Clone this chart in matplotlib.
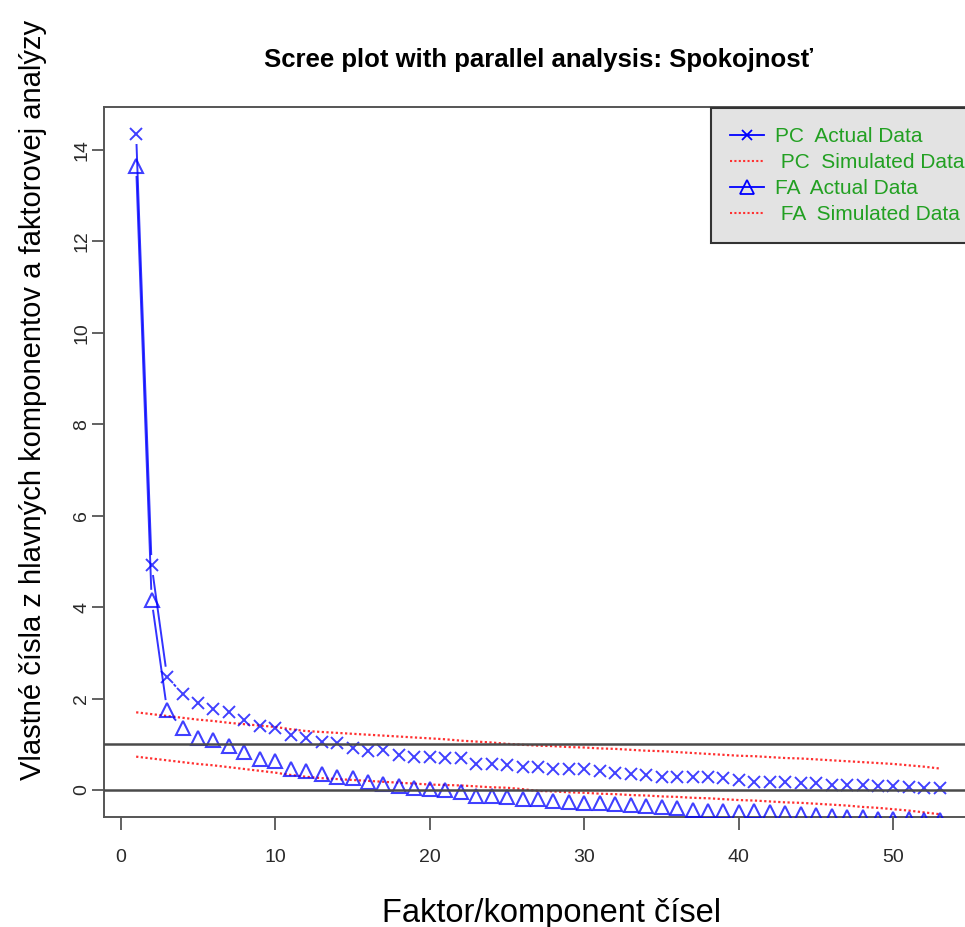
import matplotlib
matplotlib.use("Agg")
import matplotlib.pyplot as plt
from matplotlib.lines import Line2D
import numpy as np

plt.rcParams['font.family'] = ['Liberation Sans', 'DejaVu Sans']

factors = list(range(1, 54))
pc_actual = [14.35, 4.92, 2.48, 2.10, 1.90, 1.77, 1.70, 1.53, 1.41, 1.36,
             1.20, 1.13, 1.06, 1.02, 0.93, 0.86, 0.87, 0.77, 0.73, 0.73,
             0.69, 0.69, 0.58, 0.57, 0.55, 0.51, 0.51, 0.47, 0.45, 0.45,
             0.42, 0.38, 0.36, 0.33, 0.29, 0.29, 0.28, 0.28, 0.26, 0.23,
             0.18, 0.18, 0.18, 0.16, 0.15, 0.12, 0.12, 0.11, 0.09, 0.09,
             0.07, 0.05, 0.05]
fa_actual = [13.65, 4.16, 1.75, 1.35, 1.13, 1.09, 0.97, 0.84, 0.68, 0.64,
             0.47, 0.42, 0.35, 0.29, 0.26, 0.17, 0.13, 0.09, 0.05, 0.015,
             0.00, -0.04, -0.13, -0.13, -0.16, -0.20, -0.20, -0.23, -0.26, -0.28,
             -0.29, -0.31, -0.33, -0.35, -0.38, -0.40, -0.44, -0.45, -0.46, -0.47,
             -0.46, -0.48, -0.50, -0.52, -0.55, -0.56, -0.58, -0.60, -0.63, -0.63,
             -0.64, -0.65, -0.66]
pc_sim = [1.70, 1.66, 1.62, 1.58, 1.54, 1.51, 1.47, 1.44, 1.41, 1.38,
          1.33, 1.29, 1.27, 1.25, 1.23, 1.21, 1.19, 1.17, 1.15, 1.13,
          1.11, 1.08, 1.06, 1.04, 1.01, 0.99, 0.97, 0.96, 0.94, 0.93,
          0.91, 0.90, 0.88, 0.86, 0.85, 0.83, 0.81, 0.79, 0.77, 0.75,
          0.74, 0.72, 0.70, 0.69, 0.67, 0.65, 0.63, 0.61, 0.59, 0.57,
          0.54, 0.51, 0.47]
fa_sim = [0.73, 0.69, 0.65, 0.61, 0.57, 0.54, 0.50, 0.46, 0.42, 0.38,
          0.33, 0.29, 0.26, 0.24, 0.22, 0.20, 0.18, 0.16, 0.14, 0.12,
          0.11, 0.10, 0.08, 0.06, 0.05, 0.02, -0.02, -0.03, -0.05, -0.06,
          -0.08, -0.09, -0.11, -0.12, -0.14, -0.15, -0.17, -0.18, -0.20, -0.22,
          -0.23, -0.25, -0.27, -0.28, -0.30, -0.32, -0.34, -0.37, -0.39, -0.42,
          -0.45, -0.49, -0.53]
ref_lines = [0, 1]
x_ticks = [0, 10, 20, 30, 40, 50]
y_ticks = [0, 2, 4, 6, 8, 10, 12, 14]
legend_labels = ["PC  Actual Data", " PC  Simulated Data", "FA  Actual Data", " FA  Simulated Data"]

title = "Scree plot with parallel analysis: Spokojnosť"
xlabel = "Faktor/komponent čísel"
ylabel = "Vlastné čísla z hlavných komponentov a faktorovej analýzy"

W, H = 965, 927
fig = plt.figure(figsize=(W / 100, H / 100), dpi=100)
ax = fig.add_axes([104 / W, 1 - 817 / H, (972 - 104) / W, (817 - 107) / H])
ax.set_xlim(-1.08, 55.08)
ax.set_ylim(-0.59, 14.94)

blue = '#0000ff'
red = '#ff3030'
dots = (0, (1, 1.1))
ax.plot(factors, pc_sim, linestyle=dots, color=red, lw=1.6, zorder=2)
ax.plot(factors, fa_sim, linestyle=dots, color=red, lw=1.6, zorder=2)

ax.plot(factors, pc_actual, linestyle='none', marker='x', ms=8, mew=1.4,
        color=blue, alpha=0.75, zorder=3)
ax.plot(factors, fa_actual, linestyle='none', marker='^', ms=10, mew=1.5,
        mfc='none', mec=blue, alpha=0.75, zorder=3)

# type="b" line segments with gaps around points
fig.canvas.draw()
T = ax.transData
Ti = T.inverted()
gap = 11.0
for ys in (pc_actual, fa_actual):
    pts = T.transform(np.column_stack([factors, ys]))
    for i in range(len(pts) - 1):
        p0, p1 = pts[i], pts[i + 1]
        d = p1 - p0
        L = np.hypot(*d)
        if L > 2 * gap + 1:
            u = d / L
            a = Ti.transform(p0 + u * gap)
            b = Ti.transform(p1 - u * gap)
            ax.plot([a[0], b[0]], [a[1], b[1]], color=blue, lw=1.4, alpha=0.8, zorder=3)

for yv in ref_lines:
    ax.axhline(yv, color='#4a4a4a', lw=1.8, zorder=4)

ax.set_xticks(x_ticks)
ax.set_yticks(y_ticks)
ax.set_xticklabels([str(v) for v in x_ticks])
ax.set_yticklabels([str(v) for v in y_ticks], rotation=90, va='center')
ax.tick_params(axis='both', direction='out', length=9, width=1.3, color='#555555',
               labelsize=14, labelcolor='#2a2a2a')
ax.tick_params(axis='x', pad=14)
ax.tick_params(axis='y', pad=1)
for s in ax.spines.values():
    s.set_color('#555555')
    s.set_linewidth(1.4)

ax.set_title(title, fontsize=18.5, fontweight='bold', pad=29)
ax.set_xlabel(xlabel, fontsize=23.5)
ax.xaxis.set_label_coords(0.516, -0.114)
ax.set_ylabel(ylabel, fontsize=21)
ax.yaxis.set_label_coords(-0.066, 0.587)

handles = [
    Line2D([], [], color=blue, lw=1.3, marker='x', ms=7.5, mew=1.3),
    Line2D([], [], color=red, lw=1.5, linestyle=dots),
    Line2D([], [], color=blue, lw=1.3, marker='^', ms=9.5, mfc='none', mew=1.3),
    Line2D([], [], color=red, lw=1.5, linestyle=dots),
]
leg = ax.legend(handles, legend_labels, loc='upper left',
                bbox_to_anchor=((710 - 104) / (972 - 104), 1.0),
                fontsize=15, labelcolor='#22a022', frameon=True, fancybox=False,
                facecolor='#e3e3e3', edgecolor='#333333', framealpha=1,
                handlelength=1.6, handletextpad=0.55, labelspacing=0.33,
                borderpad=0.92, borderaxespad=0.05)
leg.get_frame().set_linewidth(1.5)
leg.set_zorder(5)

fig.savefig('out.png', dpi=100)
